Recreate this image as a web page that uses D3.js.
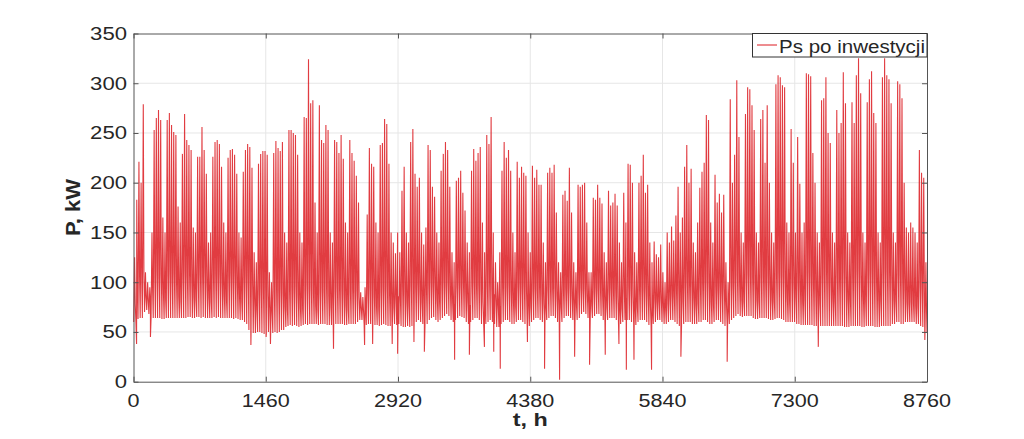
<!DOCTYPE html>
<html>
<head>
<meta charset="utf-8">
<script src="https://cdn.jsdelivr.net/npm/d3@7"></script>
<style>
  html, body { margin: 0; padding: 0; background: #ffffff; }
  svg { display: block; }
  text { font-family: "Liberation Sans", Arial, sans-serif; fill: #262626; }
</style>
</head>
<body>
<svg id="chart" width="1024" height="439"></svg>
<script>
// ---------- DATA ----------
const xTicks = [0, 1460, 2920, 4380, 5840, 7300, 8760];
const yTicks = [0, 50, 100, 150, 200, 250, 300, 350];
const seriesName = "Ps po inwestycji";
const xLabel = "t, h";
const yLabel = "P, kW";

// daily night-time base load (kW), day 0 .. 364
const dayBase = [
  60,62,63,64,64,70,72, 68,64,64,64,64,64,63, 63,64,64,64,64,64,64, 64,64,64,64,65,65,64,
  64,65,65,64,65,64,64, 64,64,65,64,65,64,64, 64,64,64,64,63,64,63, 62,62,60,58,52,50,49,
  49,50,50,49,48,48,50, 48,49,50,49,50,52,52, 55,56,57,56,57,56,55, 56,57,58,57,58,58,58,
  58,57,58,58,58,57,57, 57,58,58,58,58,58,57, 57,58,58,58,58,60,62, 62,58,57,58,58,58,57,
  57,56,57,58,57,56,56, 56,58,57,58,56,55,55, 56,55,56,58,60,62,60, 58,57,58,62,64,65,62,
  60,62,64,66,68,66,62, 60,62,64,66,65,64,60, 58,60,62,64,64,62,58, 58,58,60,62,60,58,55,
  55,58,60,62,62,60,58, 58,60,62,62,60,58,57, 56,60,62,64,64,62,60, 58,62,64,66,66,64,60,
  58,60,64,66,66,64,62, 60,62,64,68,70,68,64, 62,64,66,68,68,66,62, 60,62,64,64,64,62,60,
  58,60,62,62,62,60,58, 57,60,62,62,62,60,57, 56,58,60,62,62,60,58, 58,60,62,62,60,58,56,
  56,58,60,60,60,58,58, 58,60,60,62,62,60,58, 58,60,62,62,60,58,56, 56,58,62,64,66,68,66,
  65,66,66,66,66,64,63, 63,64,64,64,64,63,62, 62,63,64,64,63,62,60, 60,60,60,60,58,58,57,
  57,57,57,57,57,56,56, 56,56,56,56,56,56,56, 56,56,56,56,56,55,55, 55,56,56,56,56,56,55,
  55,56,56,56,56,55,55, 55,56,56,56,56,56,58, 58,60,60,58,58,60,60, 60,60,60,58,58,56,55,
  50
];

// daily peak load (kW), day 0 .. 364
const dayPeak = [
  125,183,221,200,279,110,100, 95,150,253,265,273,263,165, 150,263,270,258,251,248,176,
  160,229,269,243,238,233,155, 150,226,226,256,233,209,140, 150,226,241,243,239,216,160,
  150,225,233,234,228,209,150, 145,211,233,239,236,215,130, 120,219,229,232,232,228,110,
  100,230,242,235,232,241,150, 140,253,253,250,248,228,150, 140,266,265,324,280,283,180,
  150,278,243,240,258,253,150, 140,243,241,230,248,224,160, 150,243,230,222,207,180, 90,
   85, 95,168,235,219,216,160, 150,238,240,264,259,219,150, 140,129,150,130,192,216,150,
  140,241,254,209,196,205,150, 138,155,238,233,196,186,150, 140,212,229,241,233,196,130,
  120,202,205,212,190,172,140, 130,212,234,222,230,236,160, 130,248,239,266,150,120,100,
  130,212,241,225,233,212,150, 130,221,205,216,210,207,150, 130,217,205,213,198,198,140,
  120,210,215,210,218,170,120, 110,188,192,182,215,170,120, 110,198,196,198,200,160,110,
  110,185,183,198,185,179,130, 120,192,177,180,189,177,140, 120,190,160,219,218,200,130,
  120,200,207,228,190,198,140, 120,141,128,125,138,110,100, 150,140,156,142,167,196,150,
  165,216,238,200,214,140,130, 160,195,211,220,268,263,160, 140,208,180,189,170,188,120,
  100,284,200,228,303,246,150, 140,269,296,294,278,253,150, 140,264,273,220,278,200,150,
  140,299,308,306,298,296,160, 150,254,220,150,246,199,150, 160,310,309,307,230,200,150,
  140,283,285,306,250,240,150, 140,273,250,260,311,280,150, 140,281,260,308,325,290,150,
  140,281,304,312,270,260,150, 140,306,325,308,304,280,150, 140,302,299,285,200,155,150,
  160,155,150,140,233,210,205, 120
];

// daily evening load (kW), day 0 .. 364
const dayEvening = [
   78,100,106,102,110, 85, 82,  80, 92,105,110,104,108, 88,  82,106,110,103,108,100, 86,
   80,104,111,105,107,101, 85,  82,103,108,106,110, 99, 84,  80,105,109,104,108,100, 86,
   81,106,108,103,109, 98, 84,  80,102,107,104,106, 97, 80,  72, 88, 94, 90, 95, 87, 74,
   70, 90, 96, 92, 94, 88, 75,  72, 91, 95, 93, 96, 86, 74,  73, 92, 97, 94, 95, 89, 76,
   72, 90, 94, 91, 96, 87, 75,  74, 91, 95, 92, 94, 88, 76,  72, 90, 93, 91, 92, 85, 74,
   72, 76, 88, 94, 92, 86, 75,  73, 90, 95, 92, 95, 87, 76,  74, 84, 86, 82, 95, 90, 80,
   76, 96,100, 95, 98, 90, 80,  78, 90, 98,102, 96,100, 82,  80, 97,101, 96,100, 91, 80,
   78, 95,100, 96, 99, 90, 80,  77, 96,101, 95, 98, 92, 80,  76, 95, 99, 94, 88, 84, 78,
   76, 94, 99, 95, 98, 90, 79,  75, 95, 98, 94, 97, 90, 78,  75, 91, 95, 92, 94, 88, 78,
   76, 92, 96, 93, 95, 86, 77,  74, 90, 94, 91, 95, 86, 76,  75, 91, 95, 92, 94, 87, 77,
   76, 90, 94, 92, 95, 86, 76,  74, 91, 94, 90, 93, 85, 76,  73, 90, 84, 95, 93, 86, 75,
   74, 91, 95, 92, 94, 86, 76,  72, 82, 80, 80, 84, 76, 72,  78, 84, 88, 85, 90, 95, 80,
   80, 95,100, 96, 98, 84, 76,  78, 94, 98,100,102, 99, 80,  76, 96, 92, 95, 90, 94, 76,
   74,102, 96,100,106,100, 82,  80,104,108,106,104,100, 82,  80,104,106,100,106, 98, 82,
   80,106,110,108,106,104, 84,  80,102, 98, 84,100, 94, 80,  82,108,110,106, 98, 94, 80,
   78,105,108,110,102,100, 82,  80,106,100,104,110,104, 82,  80,106,102,110,112,106, 82,
   80,106,110,112,104,102, 82,  80,108,112,110,108,104, 82,  80,108,106,104, 92, 80, 78,
   80, 78, 76, 74, 98, 94, 92,  70
];

// short deep drops of the load (hour of year, kW)
const dipHour  = [34, 187, 1296, 1464, 1512, 2208, 2551, 2640, 2856, 2916, 3096, 3211, 3545, 3708,
                  3874, 3977, 4049, 4349, 4538, 4704, 4870, 5035, 5208, 5359, 5441, 5525, 5719,
                  6043, 6554, 7560, 8736];
const dipValue = [38, 45, 37, 45, 38, 33, 37, 38, 38, 28, 40, 30, 22, 27,
                  35, 30, 13, 40, 13, 2, 25, 17, 27, 38, 12, 22, 12,
                  25, 20, 35, 42];
const endValue = 50;

// ---------- BUILD POINTS ----------
const points = [];
dayBase.forEach((b, d) => {
  points.push({ t: d * 24 + 2, v: b });
  points.push({ t: d * 24 + 12, v: dayPeak[d] });
  points.push({ t: d * 24 + 19, v: dayEvening[d] });
});
dipHour.forEach((h, i) => points.push({ t: h, v: dipValue[i] }));
points.push({ t: 8760, v: endValue });
points.sort((a, b) => a.t - b.t);

// ---------- LAYOUT ----------
const svg = d3.select("#chart");
const L = 133.5, R = 927, T = 33.5, B = 381.7;
const x = d3.scaleLinear().domain([0, 8760]).range([L, R]);
const y = d3.scaleLinear().domain([0, 350]).range([B, T]);

// grid
const grid = svg.append("g");
grid.selectAll(".gx").data(xTicks.slice(1, -1)).join("line")
  .attr("x1", d => x(d)).attr("x2", d => x(d)).attr("y1", T).attr("y2", B)
  .attr("stroke", "#e6e6e6").attr("stroke-width", 1);
grid.selectAll(".gy").data(yTicks.slice(1, -1)).join("line")
  .attr("x1", L).attr("x2", R).attr("y1", d => y(d)).attr("y2", d => y(d))
  .attr("stroke", "#e6e6e6").attr("stroke-width", 1);

// data line
const line = d3.line().x(d => x(d.t)).y(d => y(d.v));
svg.append("path").datum(points)
  .attr("d", line)
  .attr("fill", "none")
  .attr("stroke", "#dc1a20")
  .attr("stroke-width", 1.1)
  .attr("stroke-opacity", 0.85)
  .attr("stroke-linejoin", "miter");

// axes (MATLAB style box, ticks inside)
const axisColor = "#555555";
const xAxisB = d3.axisBottom(x).tickValues(xTicks).tickSizeInner(-5).tickSizeOuter(0).tickFormat("");
const xAxisT = d3.axisTop(x).tickValues(xTicks).tickSizeInner(-5).tickSizeOuter(0).tickFormat("");
const yAxisL = d3.axisLeft(y).tickValues(yTicks).tickSizeInner(-5).tickSizeOuter(0).tickFormat("");
const yAxisR = d3.axisRight(y).tickValues(yTicks).tickSizeInner(-5).tickSizeOuter(0).tickFormat("");
[[xAxisB, `translate(0,${B})`], [xAxisT, `translate(0,${T})`],
 [yAxisL, `translate(${L},0)`], [yAxisR, `translate(${R},0)`]].forEach(([ax, tr]) => {
  const g = svg.append("g").attr("transform", tr).call(ax);
  g.selectAll("path, line").attr("stroke", axisColor).attr("stroke-width", 1);
});

// tick labels
svg.append("g").selectAll("text").data(yTicks).join("text")
  .attr("x", 127).attr("y", d => y(d)).attr("dy", "0.36em")
  .attr("text-anchor", "end").attr("font-size", 17.5)
  .attr("textLength", d => String(d).length * 12.3).attr("lengthAdjust", "spacingAndGlyphs")
  .text(d => d);
svg.append("g").selectAll("text").data(xTicks).join("text")
  .attr("x", d => x(d)).attr("y", 406.5)
  .attr("text-anchor", "middle").attr("font-size", 18)
  .attr("textLength", d => String(d).length * 12).attr("lengthAdjust", "spacingAndGlyphs")
  .text(d => d);

// axis titles
svg.append("text").attr("x", (L + R) / 2).attr("y", 426)
  .attr("text-anchor", "middle").attr("font-size", 19).attr("font-weight", "bold")
  .attr("textLength", 35).attr("lengthAdjust", "spacingAndGlyphs")
  .text(xLabel);
svg.append("text").attr("transform", `translate(80,${(T + B) / 2}) rotate(-90)`)
  .attr("text-anchor", "middle").attr("font-size", 21).attr("font-weight", "bold")
  .attr("textLength", 57).attr("lengthAdjust", "spacingAndGlyphs")
  .text(yLabel);

// legend
const lg = svg.append("g");
lg.append("rect").attr("x", 752.5).attr("y", T).attr("width", R - 752.5).attr("height", 23.5)
  .attr("fill", "#ffffff").attr("stroke", "#333333").attr("stroke-width", 1);
lg.append("line").attr("x1", 757).attr("x2", 777).attr("y1", 45).attr("y2", 45)
  .attr("stroke", "#dc1a20").attr("stroke-width", 1);
lg.append("text").attr("x", 779).attr("y", 52.5).attr("font-size", 18)
  .attr("textLength", 146).attr("lengthAdjust", "spacingAndGlyphs")
  .text(seriesName);
</script>
</body>
</html>
